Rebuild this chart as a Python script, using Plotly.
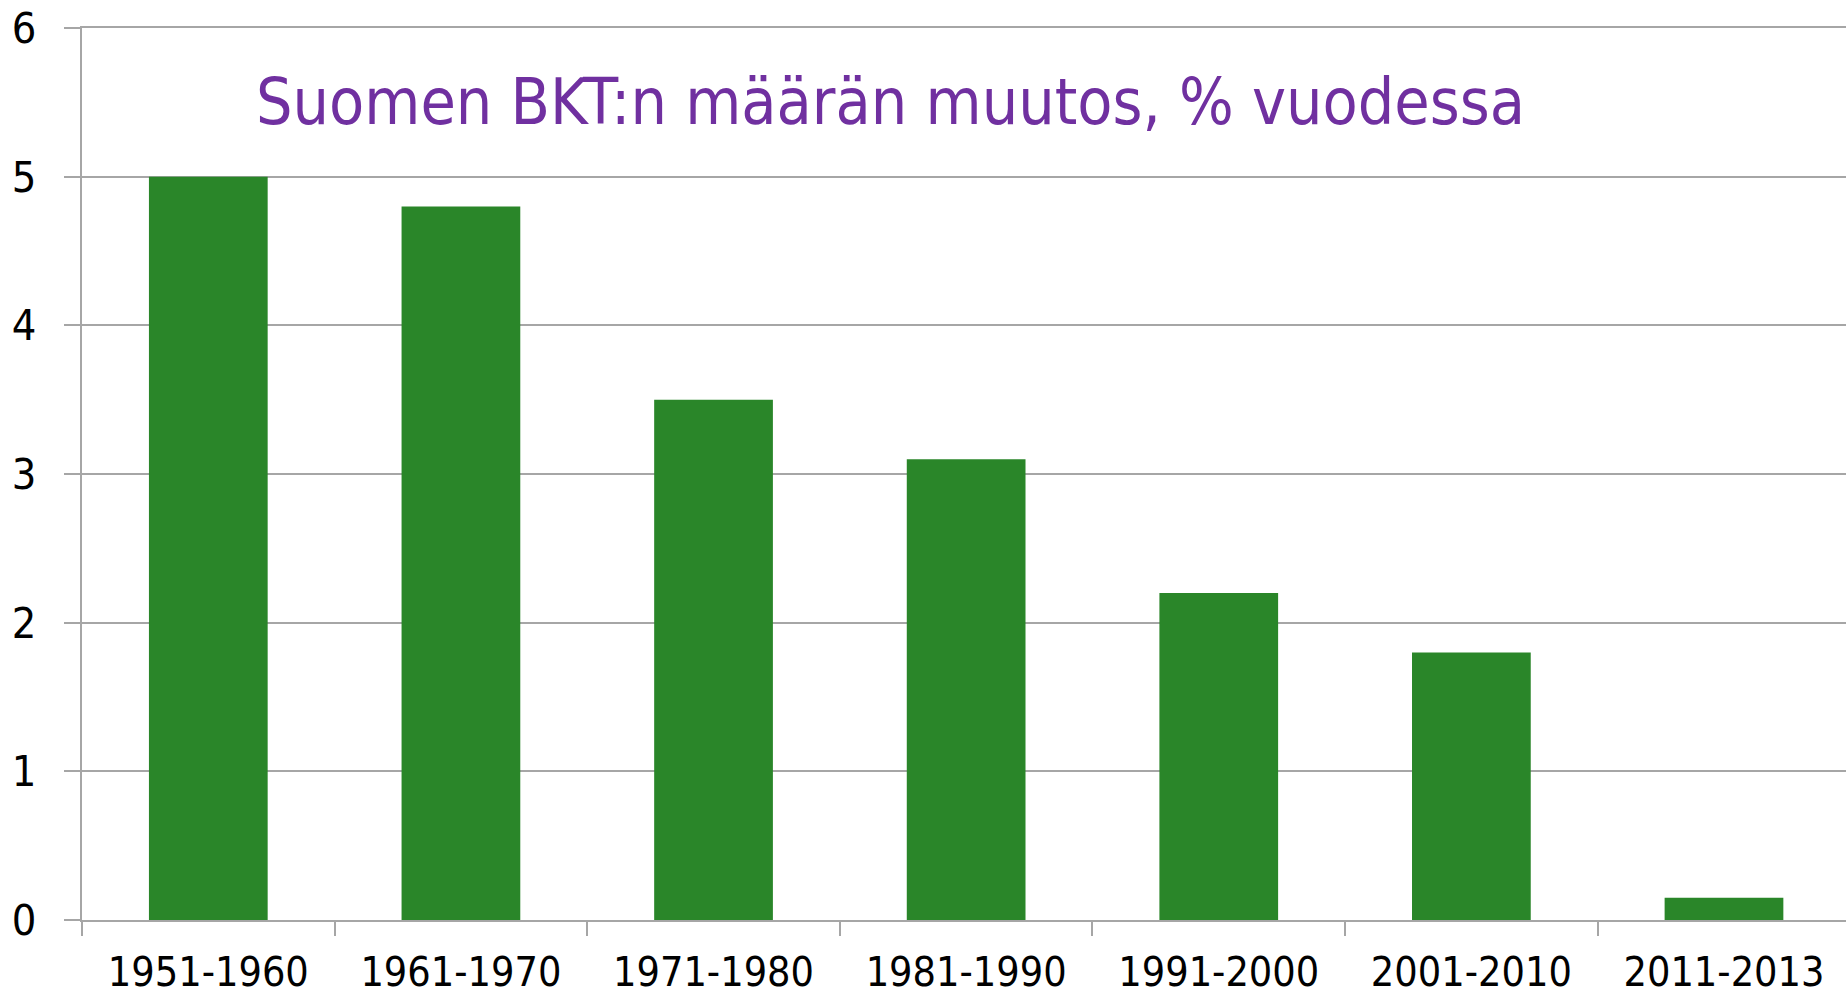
import plotly.graph_objects as go

categories = ["1951-1960", "1961-1970", "1971-1980", "1981-1990", "1991-2000", "2001-2010", "2011-2013"]
values = [5.0, 4.8, 3.5, 3.1, 2.2, 1.8, 0.15]
y_ticks = [0, 1, 2, 3, 4, 5, 6]
title_text = "Suomen BKT:n määrän muutos, % vuodessa"

FONT = "DejaVu Sans Condensed, DejaVu Sans, sans-serif"
GRID = "#a6a6a6"

fig = go.Figure(go.Bar(x=categories, y=values, marker=dict(color="#2a8629", line=dict(width=0)), width=0.47))

fig.update_layout(
    width=1846, height=998,
    margin=dict(l=82, r=0, t=28, b=78, autoexpand=False),
    paper_bgcolor="white", plot_bgcolor="white",
    showlegend=False,
    font=dict(family=FONT, color="black"),
    annotations=[dict(text=title_text, xref="paper", yref="paper", x=(254 - 82) / 1764, y=(920 - 102) / 892,
                      xanchor="left", yanchor="middle", showarrow=False,
                      font=dict(family=FONT, size=64, color="#7030a0"))],
)
fig.update_xaxes(
    range=[-0.5, 6.483], showgrid=False, showline=True, mirror=True, linecolor=GRID, linewidth=2,
    ticks="outside", ticklen=14, tickwidth=2, tickcolor=GRID, tickson="boundaries",
    tickfont=dict(size=41, family=FONT), ticklabelstandoff=15, automargin=False,
    ticklabeloverflow="allow",
)
fig.update_yaxes(
    range=[0, 6], tickvals=y_ticks, showgrid=True, gridcolor=GRID, gridwidth=2,
    showline=True, linecolor=GRID, linewidth=2, zeroline=False,
    ticks="outside", ticklen=16, tickwidth=2, tickcolor=GRID,
    tickfont=dict(size=43, family=FONT), ticklabelstandoff=19, automargin=False,
    ticklabeloverflow="allow",
)

fig.write_html("out.html", config={"displayModeBar": False},
               post_script="document.body.style.margin='0';document.body.style.overflow='hidden';")
